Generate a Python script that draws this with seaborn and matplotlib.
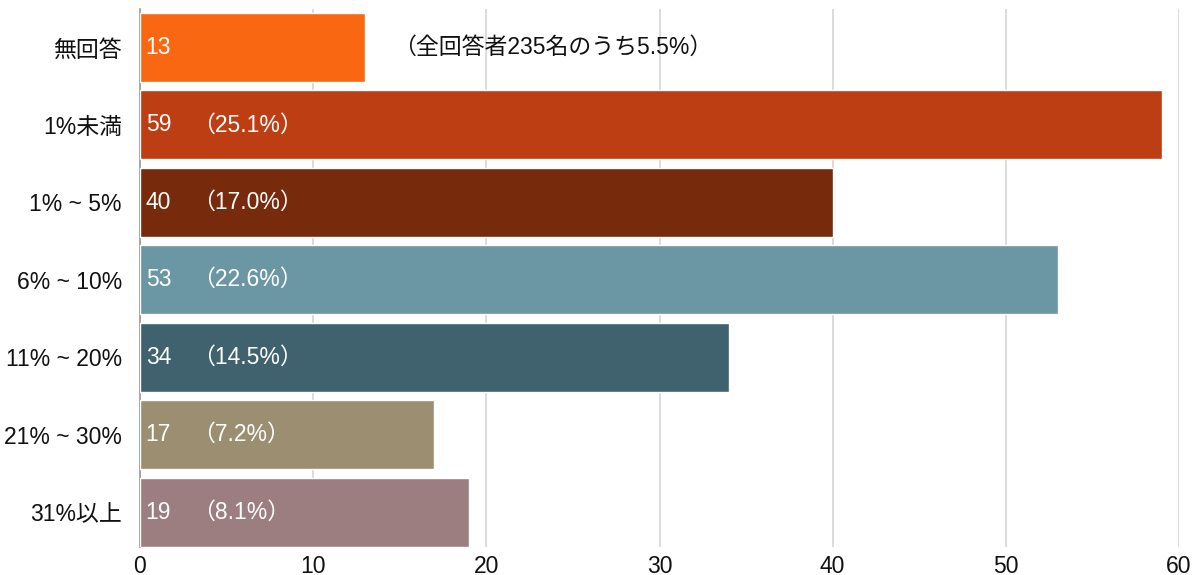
import matplotlib
matplotlib.use("Agg")
import matplotlib.pyplot as plt
import seaborn as sns
import pandas as pd

categories = ["無回答", "1%未満", "1% ~ 5%", "6% ~ 10%", "11% ~ 20%", "21% ~ 30%", "31%以上"]
counts = [13, 59, 40, 53, 34, 17, 19]
share_labels = ["", "（25.1%）", "（17.0%）", "（22.6%）", "（14.5%）", "（7.2%）", "（8.1%）"]
colors = ["#F96713", "#BE3E14", "#772A0C", "#6B97A5", "#3F626E", "#9C8E71", "#9C7D80"]
note = "（全回答者235名のうち5.5%）"
x_ticks = [0, 10, 20, 30, 40, 50, 60]

sns.set_theme(style="white")
plt.rcParams["font.family"] = ["Liberation Sans", "Noto Sans CJK JP", "DejaVu Sans"]

df = pd.DataFrame({"category": categories, "count": counts})

fig = plt.figure(figsize=(11.95, 5.75), dpi=100)
ax = fig.add_axes([140 / 1195, 1 - 546.5 / 575, (1179 - 140) / 1195, (546.5 - 8.8) / 575])

sns.barplot(data=df, x="count", y="category", hue="category",
            palette=dict(zip(categories, colors)), orient="h",
            width=0.89, saturation=1, legend=False, ax=ax, zorder=3)

fs = 16.5
ax.set_xlim(0, 60)
ax.set_ylim(6.445, -0.5)
ax.set_xticks(x_ticks)
ax.set_xticklabels([str(t) for t in x_ticks], fontsize=fs, color="#111111")
ax.tick_params(axis="y", labelsize=fs, labelcolor="#111111", length=0, pad=13)
ax.tick_params(axis="x", length=0, pad=6)
ax.set_xlabel("")
ax.set_ylabel("")

ax.grid(axis="x", color="#d6d6d6", linewidth=1.2, zorder=0)
ax.set_axisbelow(True)
for side in ["top", "right", "bottom"]:
    ax.spines[side].set_visible(False)
ax.spines["left"].set_color("#999999")
ax.spines["left"].set_linewidth(1.2)

for i, (v, s) in enumerate(zip(counts, share_labels)):
    ax.text(0.33, i, str(v), color="white", fontsize=fs, va="center", ha="left", zorder=5)
    if s:
        ax.text(3.0, i, s, color="white", fontsize=fs, va="center", ha="left", zorder=5)

ax.text(14.6, 0, note, color="#111111", fontsize=fs, va="center", ha="left", zorder=5)

fig.savefig("out.png", dpi=100)
